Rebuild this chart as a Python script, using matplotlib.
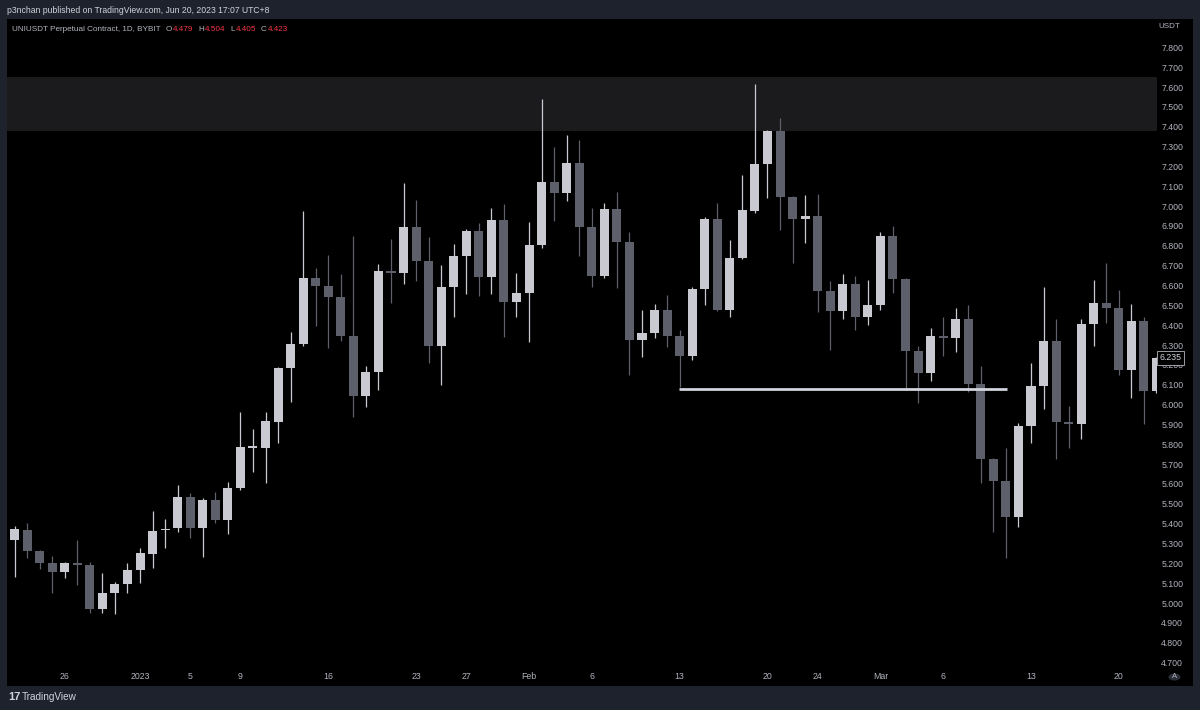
import matplotlib
matplotlib.use('Agg')
import matplotlib.pyplot as plt
import matplotlib.dates as mdates
import matplotlib.transforms as mtrans
from matplotlib.patches import Rectangle, Circle
import pandas as pd

# ---------------- data ----------------
dates = pd.date_range('2022-12-22', '2023-03-23', freq='D')
opens = [5.316, 5.370, 5.262, 5.201, 5.157, 5.201, 5.190, 4.969, 5.049, 5.098,
         5.165, 5.249, 5.367, 5.377, 5.536, 5.377, 5.519, 5.419, 5.578, 5.783,
         5.783, 5.914, 6.183, 6.305, 6.636, 6.597, 6.541, 6.346, 6.045, 6.166,
         6.673, 6.661, 6.893, 6.723, 6.297, 6.594, 6.748, 6.873, 6.641, 6.930,
         6.517, 6.561, 6.804, 7.120, 7.068, 7.216, 6.896, 6.648, 6.985, 6.821,
         6.325, 6.362, 6.477, 6.346, 6.245, 6.582, 6.933, 6.477, 6.740, 6.976,
         7.211, 7.380, 7.044, 6.935, 6.952, 6.574, 6.473, 6.609, 6.440, 6.500,
         6.849, 6.633, 6.270, 6.158, 6.346, 6.334, 6.430, 6.102, 5.726, 5.617,
         5.435, 5.894, 6.095, 6.322, 5.914, 5.903, 6.405, 6.510, 6.485, 6.174,
         6.421, 6.068]
highs = [5.388, 5.405, 5.268, 5.237, 5.209, 5.318, 5.207, 5.150, 5.108, 5.203,
         5.276, 5.464, 5.422, 5.595, 5.556, 5.528, 5.558, 5.612, 5.961, 5.876,
         5.961, 6.191, 6.367, 6.977, 6.690, 6.754, 6.658, 6.849, 6.196, 6.708,
         6.833, 7.118, 7.031, 6.846, 6.703, 6.809, 6.883, 6.916, 6.989, 7.011,
         6.662, 6.921, 7.538, 7.299, 7.358, 7.333, 6.989, 7.014, 7.073, 6.871,
         6.477, 6.505, 6.552, 6.376, 6.594, 6.947, 7.017, 6.829, 7.157, 7.615,
         7.385, 7.442, 7.050, 7.056, 7.061, 6.624, 6.658, 6.648, 6.628, 6.871,
         6.900, 6.640, 6.297, 6.388, 6.443, 6.485, 6.502, 6.196, 5.730, 5.780,
         5.906, 6.208, 6.594, 6.431, 5.994, 6.430, 6.628, 6.712, 6.577, 6.505,
         6.443, 6.240]
lows = [5.130, 5.229, 5.170, 5.052, 5.128, 5.091, 4.949, 4.949, 4.945, 5.052,
        5.100, 5.178, 5.276, 5.360, 5.326, 5.234, 5.402, 5.348, 5.570, 5.662,
        5.604, 5.808, 6.015, 6.295, 6.396, 6.284, 6.322, 5.939, 5.986, 6.074,
        6.510, 6.608, 6.624, 6.211, 6.099, 6.443, 6.557, 6.549, 6.557, 6.342,
        6.440, 6.317, 6.789, 6.925, 7.026, 6.749, 6.594, 6.636, 6.586, 6.149,
        6.241, 6.334, 6.289, 6.091, 6.225, 6.502, 6.474, 6.443, 6.735, 6.967,
        7.039, 6.880, 6.712, 6.816, 6.468, 6.275, 6.430, 6.376, 6.401, 6.477,
        6.561, 6.074, 6.007, 6.120, 6.246, 6.267, 6.065, 5.604, 5.360, 5.226,
        5.382, 5.805, 5.976, 5.726, 5.783, 5.827, 6.297, 6.410, 6.149, 6.035,
        5.902, 6.060]
closes = [5.372, 5.261, 5.201, 5.157, 5.203, 5.190, 4.969, 5.049, 5.096, 5.165,
          5.251, 5.365, 5.375, 5.536, 5.377, 5.519, 5.419, 5.578, 5.788, 5.788,
          5.917, 6.183, 6.307, 6.636, 6.597, 6.541, 6.346, 6.045, 6.166, 6.673,
          6.665, 6.893, 6.723, 6.297, 6.594, 6.750, 6.873, 6.641, 6.930, 6.517,
          6.561, 6.804, 7.120, 7.068, 7.216, 6.896, 6.648, 6.985, 6.821, 6.325,
          6.362, 6.477, 6.346, 6.245, 6.582, 6.933, 6.477, 6.740, 6.979, 7.211,
          7.380, 7.044, 6.935, 6.952, 6.572, 6.473, 6.609, 6.440, 6.500, 6.849,
          6.633, 6.270, 6.158, 6.347, 6.335, 6.430, 6.102, 5.724, 5.617, 5.435,
          5.894, 6.095, 6.322, 5.911, 5.903, 6.405, 6.510, 6.485, 6.174, 6.421,
          6.068, 6.235]

zone_low, zone_high = 7.378, 7.650
level_price = 6.081
level_start, level_end = '2023-02-13', '2023-03-11'
last_price = 6.235

tick_dates = ['2022-12-26', '2023-01-01', '2023-01-05', '2023-01-09', '2023-01-16',
              '2023-01-23', '2023-01-27', '2023-02-01', '2023-02-06', '2023-02-13',
              '2023-02-20', '2023-02-24', '2023-03-01', '2023-03-06', '2023-03-13',
              '2023-03-20']
tick_labels = ['26', '2023', '5', '9', '16', '23', '27', 'Feb', '6', '13', '20', '24',
               'Mar', '6', '13', '20']
price_ticks = [4.7, 4.8, 4.9, 5.0, 5.1, 5.2, 5.3, 5.4, 5.5, 5.6, 5.7, 5.8, 5.9, 6.0,
               6.1, 6.2, 6.3, 6.4, 6.5, 6.6, 6.7, 6.8, 6.9, 7.0, 7.1, 7.2, 7.3, 7.4,
               7.5, 7.6, 7.7, 7.8]

title_text = 'UNIUSDT Perpetual Contract, 1D, BYBIT'
ohlc_letters = ['O', 'H', 'L', 'C']
ohlc_values = ['4.479', '4.504', '4.405', '4.423']
publish_text = 'p3nchan published on TradingView.com, Jun 20, 2023 17:07 UTC+8'

# ---------------- style ----------------
W, H = 1200, 710
FRAME = '#1e222d'
UP = '#c9cad1'
DOWN = '#5d5f6a'
AXIS_TXT = '#b2b5be'
FONT = ['Liberation Sans', 'DejaVu Sans']
plt.rcParams['font.family'] = FONT


def fx(px):
    return px / W


def fy(py):
    return 1 - py / H


fig = plt.figure(figsize=(W / 100, H / 100), dpi=100, facecolor=FRAME)
renderer = fig.canvas.get_renderer()

# black chart panel
fig.add_artist(Rectangle((fx(7), fy(686)), fx(1193) - fx(7), fy(19) - fy(686),
                         transform=fig.transFigure, facecolor='black',
                         edgecolor='none', zorder=-10))

ax = fig.add_axes([fx(7), fy(666), fx(1157) - fx(7), fy(19) - fy(666)])
ax.set_facecolor('black')
for s in ax.spines.values():
    s.set_visible(False)

x = mdates.date2num(dates)
jan1 = mdates.date2num(pd.Timestamp('2023-01-01'))
ax.set_xlim(jan1 - 10.6, jan1 + 81.04)
ax.set_ylim(4.6831, 7.9426)

# supply zone
ax.axhspan(zone_low, zone_high, color='#1b1b1e', zorder=1, lw=0)

# candles
cols = [UP if c >= o else DOWN for o, c in zip(opens, closes)]
bottoms = [min(o, c) for o, c in zip(opens, closes)]
heights = [max(abs(c - o), 0.008) for o, c in zip(opens, closes)]
ax.vlines(x, lows, highs, colors=cols, lw=0.9, zorder=2)
ax.bar(x, heights, bottom=bottoms, width=0.72, color=cols, lw=0, zorder=3)

# horizontal level
ax.hlines(level_price, mdates.date2num(pd.Timestamp(level_start)) - 0.05,
          mdates.date2num(pd.Timestamp(level_end)) + 0.05,
          colors='#d1d4dc', lw=2.0, zorder=4)

# axes ticks
ax.set_xticks(mdates.date2num(pd.to_datetime(tick_dates)))
ax.set_xticklabels(tick_labels)
ax.tick_params(axis='x', length=0, pad=4, labelsize=6.3, labelcolor=AXIS_TXT)
ax.yaxis.tick_right()
ax.set_yticks(price_ticks)
ax.set_yticklabels([f'{p:.3f}' for p in price_ticks])
ax.tick_params(axis='y', length=0, pad=3, labelsize=6.3, labelcolor=AXIS_TXT)

# last price label
tr = mtrans.blended_transform_factory(ax.transAxes, ax.transData)
ax.text(1.0 + 2.5 / 1150, last_price, f'{last_price:.3f}', transform=tr,
        ha='left', va='center', fontsize=6.3, color='#d1d4dc', clip_on=False,
        zorder=10,
        bbox=dict(boxstyle='square,pad=0.25', fc='black', ec='#b2b5be', lw=0.6))

# header texts
fig.text(fx(7), fy(10.5), publish_text, fontsize=6.2, color='#d1d4dc',
         ha='left', va='center')


def chained(px, text, color, gap):
    t = fig.text(fx(px), fy(29.5), text, fontsize=5.9, color=color,
                 ha='left', va='center')
    ext = t.get_window_extent(renderer=renderer)
    return ext.x1 + gap


cur = chained(12, title_text, AXIS_TXT, 5)
for l, v in zip(ohlc_letters, ohlc_values):
    cur = chained(cur, l, AXIS_TXT, 0.8)
    cur = chained(cur, v, '#f23645', 5)

fig.text(fx(1169), fy(27), 'USDT', fontsize=5.8, color=AXIS_TXT, ha='center', va='center')

# "A" auto-scale button
fig.add_artist(Circle((fx(1174.5), fy(677)), 6 / W, transform=fig.transFigure,
                      facecolor='#2a2e39', edgecolor='none', zorder=5))
fig.text(fx(1174.5), fy(677), 'A', fontsize=5.5, color=AXIS_TXT, ha='center',
         va='center', zorder=6)

# TradingView footer
fig.text(fx(8), fy(697), '17', fontsize=8, fontweight='bold', color='#d1d4dc',
         ha='left', va='center')
fig.text(fx(22), fy(697), 'TradingView', fontsize=7.2, color='#d1d4dc',
         ha='left', va='center')

fig.savefig('out.png', dpi=100, facecolor=FRAME)
